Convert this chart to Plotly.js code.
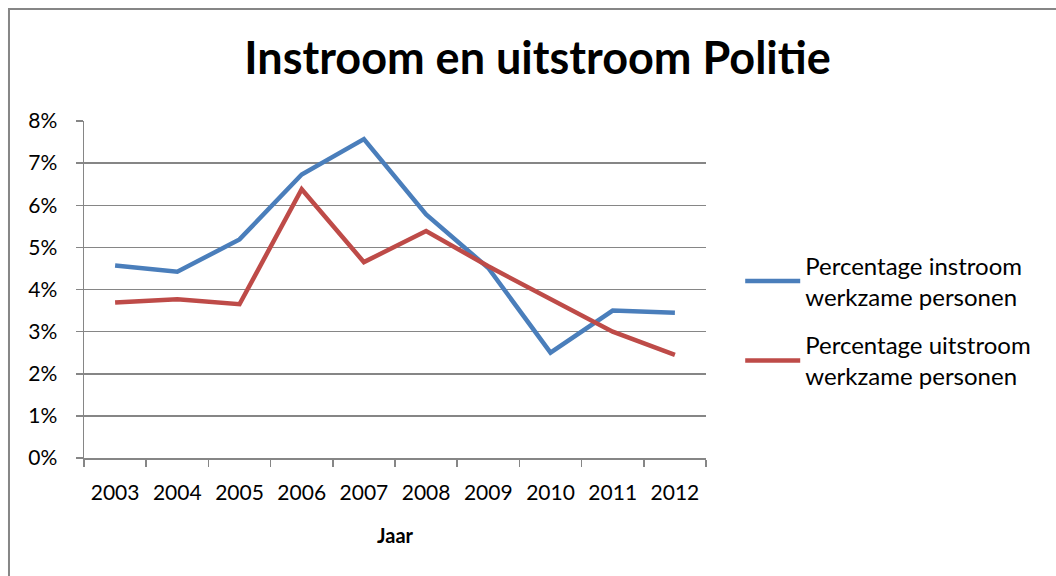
<!DOCTYPE html>
<html>
<head>
<meta charset="utf-8">
<script src="https://cdn.plot.ly/plotly-3.0.1.min.js"></script>
<style>html,body{margin:0;padding:0;background:#fff;}#chart{width:1056px;height:576px;}</style>
</head>
<body>
<div id="chart"></div>
<script>
const years = ['2003','2004','2005','2006','2007','2008','2009','2010','2011','2012'];
const instroom = [0.0457, 0.0442, 0.0519, 0.0673, 0.0757, 0.0578, 0.0451, 0.0250, 0.0350, 0.0345];
const uitstroom = [0.0369, 0.0377, 0.0365, 0.0638, 0.0465, 0.0539, 0.0455, 0.0378, 0.0300, 0.0245];
const seriesNames = ['Percentage instroom<br>werkzame personen', 'Percentage uitstroom<br>werkzame personen'];
const titleText = '<b>Instroom en uitstroom Politie</b>';
const xTitle = '<b>Jaar</b>';

const FONT = 'Lato, Calibri, Carlito, "Open Sans", sans-serif';
const GRID = '#868686';

const traces = [
  {x: years, y: instroom, name: seriesNames[0], legendgroup: 'a', type: 'scatter', mode: 'lines',
   line: {color: '#4A7EBB', width: 4.5}},
  {x: years, y: uitstroom, name: seriesNames[1], legendgroup: 'b', type: 'scatter', mode: 'lines',
   line: {color: '#BE4B48', width: 4.5}}
];

const layout = {
  width: 1056, height: 576,
  margin: {l: 84, r: 350, t: 121, b: 118},
  paper_bgcolor: '#ffffff', plot_bgcolor: '#ffffff',
  font: {family: FONT, color: '#000000', size: 21},
  title: {text: titleText, x: 0.509, xref: 'container', xanchor: 'center',
          y: 0.899, yref: 'container', yanchor: 'middle',
          font: {family: FONT, size: 45, color: '#000000'}},
  xaxis: {type: 'category', range: [-0.5, 9.5], showgrid: false, showline: true, linecolor: GRID, linewidth: 1.5,
          ticks: 'outside', tickson: 'boundaries', ticklen: 7, tickcolor: GRID, tickwidth: 1.5,
          ticklabelstandoff: 15,
          tickfont: {family: FONT, size: 21, color: '#000'},
          title: {text: xTitle, font: {family: FONT, size: 20, color: '#000'}, standoff: 26},
          fixedrange: true},
  yaxis: {range: [0, 0.08], dtick: 0.01, tickformat: '.0%', showgrid: true, gridcolor: GRID, gridwidth: 1.5,
          showline: true, linecolor: GRID, linewidth: 1.5, zeroline: false,
          ticks: 'outside', ticklen: 7, tickcolor: GRID, tickwidth: 1.5,
          ticklabelstandoff: 14,
          tickfont: {family: FONT, size: 21, color: '#000'}, fixedrange: true},
  showlegend: true,
  legend: {x: 1.055, xanchor: 'left', y: 0.407, yanchor: 'middle', bgcolor: 'rgba(0,0,0,0)',
           font: {family: FONT, size: 24, color: '#000'}, tracegroupgap: 14, itemwidth: 55},
  shapes: [
    {type: 'rect', xref: 'paper', yref: 'paper', x0: -0.1206, x1: 1.6, y0: -0.4, y1: 1.332,
     line: {color: '#868686', width: 2}, fillcolor: 'rgba(0,0,0,0)', layer: 'below'}
  ]
};

Plotly.newPlot('chart', traces, layout, {displayModeBar: false, staticPlot: true});
</script>
</body>
</html>
